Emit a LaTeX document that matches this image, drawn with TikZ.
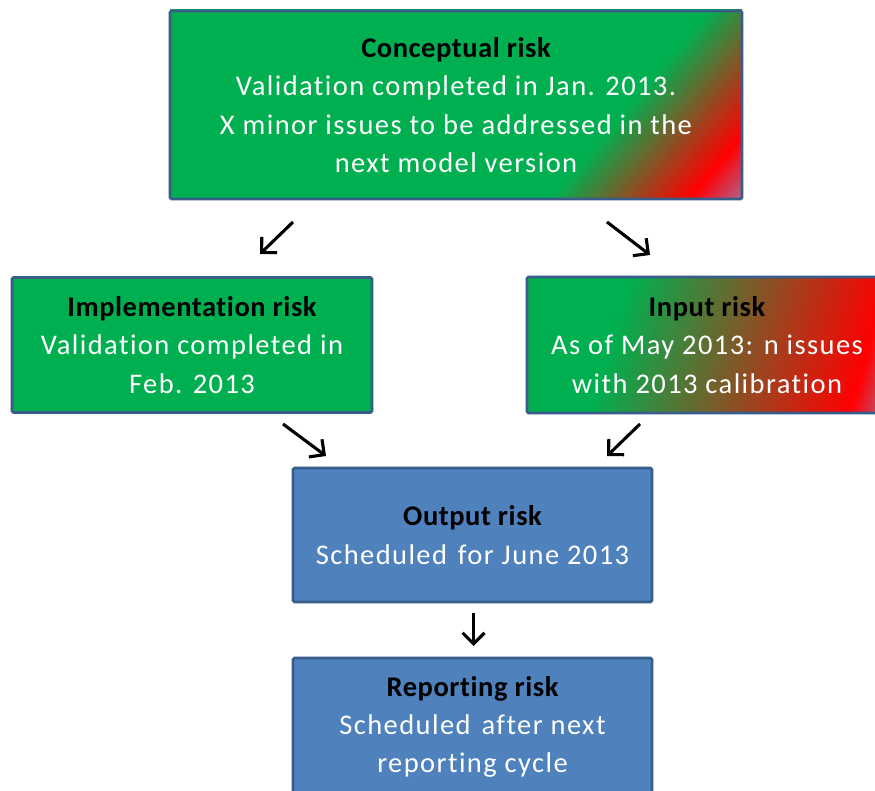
\documentclass[tikz,border=0pt]{standalone}
\usepackage{fontspec}
\setmainfont{Carlito}[Ligatures=NoCommon, LetterSpace=5, BoldFeatures={LetterSpace=2}]
\usetikzlibrary{arrows.meta}
\definecolor{gr}{RGB}{0,176,80}
\definecolor{rd}{RGB}{255,0,0}
\definecolor{pu}{RGB}{180,95,135}
\definecolor{bfill}{RGB}{79,129,189}
\definecolor{bd}{RGB}{56,93,138}
\newcommand\gradstrips[7]{%
 \begin{scope}
 \clip (#1,#2) rectangle (#3,#4);
 \pgfmathsetmacro\gc{cos(#5)}
 \pgfmathsetmacro\gs{sin(#5)}
 \pgfmathsetmacro\umin{#1*\gc+#2*\gs}
 \pgfmathsetmacro\umax{#3*\gc+#4*\gs}
 \pgfmathsetmacro\du{(\umax-\umin)/120}
 \foreach \k in {0,...,119}{
   \pgfmathsetmacro\tt{(\k+0.5)/120}
   \pgfmathsetmacro\pa{max(0,min(100,(\tt-#6)/(#7-#6)*100))}
   \pgfmathsetmacro\pb{max(0,min(100,(\tt-#7)/(1-#7)*100))}
   \colorlet{tmpc}{rd!\pa!gr}
   \colorlet{stripc}{pu!\pb!tmpc}
   \pgfmathsetmacro\ua{\umin+\k*\du-0.4}
   \pgfmathsetmacro\ub{\umin+(\k+1)*\du+0.4}
   \fill[stripc] ({\ua*\gc+1000*\gs},{\ua*\gs-1000*\gc}) -- ({\ub*\gc+1000*\gs},{\ub*\gs-1000*\gc}) -- ({\ub*\gc-1000*\gs},{\ub*\gs+1000*\gc}) -- ({\ua*\gc-1000*\gs},{\ua*\gs+1000*\gc}) -- cycle;
 }
 \end{scope}}
\tikzset{
  riskbox/.style={draw=bd, line width=2.6pt, rounded corners=1.5pt, inner sep=0pt,
    align=center, text=white, font=\fontsize{28.5}{38.3}\selectfont},
  arr/.style={line width=3.1pt, -{Straight Barb[length=11pt,width=22pt]}}
}
\newcommand\ttl[1]{\textcolor{black}{\bfseries #1}}
\begin{document}
\begin{tikzpicture}[x=1pt,y=-1pt]
\useasboundingbox (0,0) rectangle (875,791);
\fill[white] (0,0) rectangle (875,791);
\gradstrips{170}{10}{742}{198}{40}{0.74}{0.93}
\gradstrips{527}{277}{887}{413}{16.5}{0.26}{0.91}
\node[riskbox, minimum width=572pt, minimum height=188pt] (concept) at (456,105)
  {\ttl{Conceptual risk}\\Validation completed in Jan. 2013.\\X minor issues to be addressed in the\\next model version};
\node[riskbox, fill=gr, minimum width=360pt, minimum height=135pt] (impl) at (192,345)
  {\ttl{Implementation risk}\\Validation completed in\\Feb. 2013};
\node[riskbox, minimum width=360pt, minimum height=136pt] (input) at (707,345)
  {\ttl{Input risk}\\As of May 2013: n issues\\with 2013 calibration};
\node[riskbox, fill=bfill, minimum width=359pt, minimum height=134pt] (output) at (472.5,535)
  {\ttl{Output risk}\\Scheduled\hspace{3pt} for June 2013};
\node[riskbox, fill=bfill, minimum width=359pt, minimum height=138pt] (report) at (472.5,727)
  {\ttl{Reporting risk}\\Scheduled\hspace{3pt} after next\\reporting cycle};
\coordinate (a1s) at (293,222); \coordinate (a1e) at (260,254);
\coordinate (a2s) at (607,222); \coordinate (a2e) at (650,255);
\coordinate (a3s) at (283,424); \coordinate (a3e) at (326,456);
\coordinate (a4s) at (640,424); \coordinate (a4e) at (607,456);
\coordinate (a5s) at (473.5,613); \coordinate (a5e) at (473.5,646);
\draw[arr] (a1s) -- (a1e);
\draw[arr] (a2s) -- (a2e);
\draw[arr] (a3s) -- (a3e);
\draw[arr] (a4s) -- (a4e);
\draw[arr] (a5s) -- (a5e);
\end{tikzpicture}
\end{document}
